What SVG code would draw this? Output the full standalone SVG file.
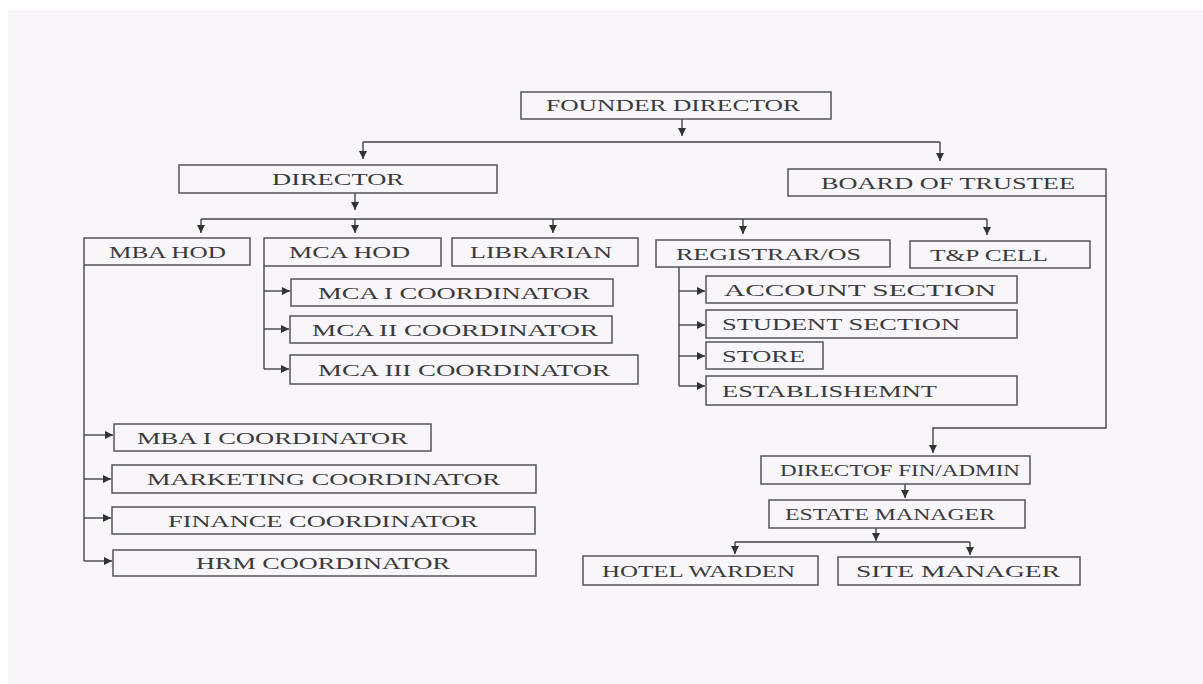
<svg xmlns="http://www.w3.org/2000/svg" width="1203" height="684" viewBox="0 0 1203 684">
<defs>
<style>
.box{fill:#f8f5fb;stroke:#555;stroke-width:1.5}
.lbl{font-family:"Liberation Serif","Times New Roman",serif;font-size:17px;fill:#3a3a3a}
.ln{fill:none;stroke:#444;stroke-width:1.4}
</style>
<marker id="ah" markerUnits="userSpaceOnUse" markerWidth="9" markerHeight="9" refX="8" refY="4.5" orient="auto" viewBox="0 0 9 9">
<path d="M0,0.5 L8,4.5 L0,8.5 z" fill="#333"/>
</marker>
</defs>
<rect x="0" y="0" width="1203" height="684" fill="#ffffff"/>
<rect x="8" y="10" width="1195" height="674" fill="#f8f5fb"/>

<g id="connectors">
<path class="ln" d="M682,119 V136" marker-end="url(#ah)"/>
<path class="ln" d="M363,142 H940"/>
<path class="ln" d="M363,142 V159" marker-end="url(#ah)"/>
<path class="ln" d="M940,142 V161" marker-end="url(#ah)"/>
<path class="ln" d="M355,193 V210" marker-end="url(#ah)"/>
<path class="ln" d="M201,219 H987"/>
<path class="ln" d="M201,219 V233" marker-end="url(#ah)"/>
<path class="ln" d="M355,219 V233" marker-end="url(#ah)"/>
<path class="ln" d="M553,219 V233" marker-end="url(#ah)"/>
<path class="ln" d="M743,219 V234" marker-end="url(#ah)"/>
<path class="ln" d="M987,219 V235" marker-end="url(#ah)"/>
<path class="ln" d="M264,266 V369"/>
<path class="ln" d="M264,291 H290" marker-end="url(#ah)"/>
<path class="ln" d="M264,329 H289" marker-end="url(#ah)"/>
<path class="ln" d="M264,369 H289" marker-end="url(#ah)"/>
<path class="ln" d="M679,267 V386"/>
<path class="ln" d="M679,291 H705" marker-end="url(#ah)"/>
<path class="ln" d="M679,325 H705" marker-end="url(#ah)"/>
<path class="ln" d="M679,356 H705" marker-end="url(#ah)"/>
<path class="ln" d="M679,386 H705" marker-end="url(#ah)"/>
<path class="ln" d="M84,265 V561"/>
<path class="ln" d="M84,435 H113" marker-end="url(#ah)"/>
<path class="ln" d="M84,479 H111" marker-end="url(#ah)"/>
<path class="ln" d="M84,518 H111" marker-end="url(#ah)"/>
<path class="ln" d="M84,561 H112" marker-end="url(#ah)"/>
<path class="ln" d="M1106,196 V428 H933 V453" marker-end="url(#ah)"/>
<path class="ln" d="M905,484 V498" marker-end="url(#ah)"/>
<path class="ln" d="M876,528 V541" marker-end="url(#ah)"/>
<path class="ln" d="M735,542 H970"/>
<path class="ln" d="M735,542 V554" marker-end="url(#ah)"/>
<path class="ln" d="M970,542 V555" marker-end="url(#ah)"/>
</g>

<g id="founder"><rect class="box" x="521" y="92" width="310" height="27"/><text class="lbl" x="546" y="111" textLength="254" lengthAdjust="spacingAndGlyphs">FOUNDER DIRECTOR</text></g>
<g id="director"><rect class="box" x="179" y="165" width="318" height="28"/><text class="lbl" x="272" y="185" textLength="132" lengthAdjust="spacingAndGlyphs">DIRECTOR</text></g>
<g id="board"><rect class="box" x="788" y="169" width="318" height="27"/><text class="lbl" x="821" y="189" textLength="254" lengthAdjust="spacingAndGlyphs">BOARD OF TRUSTEE</text></g>
<g id="mbahod"><rect class="box" x="84" y="238" width="166" height="27"/><text class="lbl" x="109" y="258" textLength="117" lengthAdjust="spacingAndGlyphs">MBA HOD</text></g>
<g id="mcahod"><rect class="box" x="264" y="238" width="177" height="28"/><text class="lbl" x="289" y="258" textLength="121" lengthAdjust="spacingAndGlyphs">MCA HOD</text></g>
<g id="librarian"><rect class="box" x="452" y="238" width="186" height="28"/><text class="lbl" x="470" y="258" textLength="142" lengthAdjust="spacingAndGlyphs">LIBRARIAN</text></g>
<g id="registrar"><rect class="box" x="656" y="240" width="234" height="27"/><text class="lbl" x="676" y="260" textLength="185" lengthAdjust="spacingAndGlyphs">REGISTRAR/OS</text></g>
<g id="tpcell"><rect class="box" x="910" y="241" width="180" height="27"/><text class="lbl" x="930" y="261" textLength="118" lengthAdjust="spacingAndGlyphs">T&amp;P CELL</text></g>

<g id="mca1"><rect class="box" x="291" y="279" width="322" height="27"/><text class="lbl" x="318" y="299" textLength="272" lengthAdjust="spacingAndGlyphs">MCA I COORDINATOR</text></g>
<g id="mca2"><rect class="box" x="290" y="316" width="322" height="27"/><text class="lbl" x="312" y="336" textLength="286" lengthAdjust="spacingAndGlyphs">MCA II COORDINATOR</text></g>
<g id="mca3"><rect class="box" x="290" y="355" width="348" height="29"/><text class="lbl" x="318" y="376" textLength="292" lengthAdjust="spacingAndGlyphs">MCA III COORDINATOR</text></g>

<g id="account"><rect class="box" x="706" y="276" width="311" height="27"/><text class="lbl" x="724" y="296" textLength="272" lengthAdjust="spacingAndGlyphs">ACCOUNT SECTION</text></g>
<g id="student"><rect class="box" x="706" y="310" width="311" height="28"/><text class="lbl" x="722" y="330" textLength="238" lengthAdjust="spacingAndGlyphs">STUDENT SECTION</text></g>
<g id="store"><rect class="box" x="706" y="342" width="117" height="27"/><text class="lbl" x="722" y="362" textLength="83" lengthAdjust="spacingAndGlyphs">STORE</text></g>
<g id="establishment"><rect class="box" x="706" y="376" width="311" height="29"/><text class="lbl" x="722" y="397" textLength="215" lengthAdjust="spacingAndGlyphs">ESTABLISHEMNT</text></g>

<g id="mba1"><rect class="box" x="114" y="424" width="317" height="27"/><text class="lbl" x="137" y="444" textLength="271" lengthAdjust="spacingAndGlyphs">MBA I COORDINATOR</text></g>
<g id="marketing"><rect class="box" x="112" y="465" width="424" height="28"/><text class="lbl" x="147" y="485" textLength="353" lengthAdjust="spacingAndGlyphs">MARKETING COORDINATOR</text></g>
<g id="finance"><rect class="box" x="112" y="507" width="423" height="27"/><text class="lbl" x="168" y="527" textLength="310" lengthAdjust="spacingAndGlyphs">FINANCE COORDINATOR</text></g>
<g id="hrm"><rect class="box" x="113" y="550" width="423" height="26"/><text class="lbl" x="196" y="569" textLength="254" lengthAdjust="spacingAndGlyphs">HRM COORDINATOR</text></g>

<g id="dirfin"><rect class="box" x="761" y="456" width="269" height="28"/><text class="lbl" x="780" y="476" textLength="240" lengthAdjust="spacingAndGlyphs">DIRECTOF FIN/ADMIN</text></g>
<g id="estate"><rect class="box" x="769" y="500" width="256" height="28"/><text class="lbl" x="785" y="520" textLength="210" lengthAdjust="spacingAndGlyphs">ESTATE MANAGER</text></g>
<g id="hotel"><rect class="box" x="583" y="556" width="235" height="29"/><text class="lbl" x="602" y="577" textLength="193" lengthAdjust="spacingAndGlyphs">HOTEL WARDEN</text></g>
<g id="site"><rect class="box" x="838" y="557" width="242" height="28"/><text class="lbl" x="856" y="577" textLength="204" lengthAdjust="spacingAndGlyphs">SITE MANAGER</text></g>
</svg>
